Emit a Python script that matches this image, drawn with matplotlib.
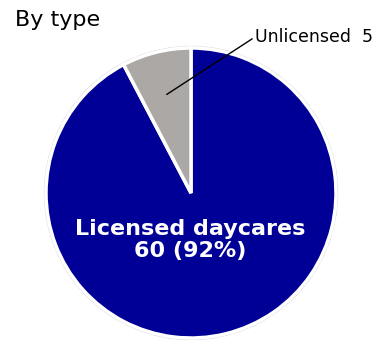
import numpy as np
import matplotlib.pyplot as plt
from matplotlib.patches import Circle

# Daycare facilities by type
labels = ['Licensed daycares', 'Unlicensed']
counts = [60, 5]
colors = ['#000096', '#ABA8A6']

fig = plt.figure(figsize=(3.79, 3.4), dpi=100)
ax = fig.add_axes([0, 0, 1, 1])

cx, cy, r = 191, 147, 145

# faint outline around the pie
ax.add_patch(Circle((cx, cy), r + 1.5, fill=False, edgecolor='#dcdcdc', lw=1, zorder=0))

wedges, _ = ax.pie(counts, colors=colors, startangle=90, counterclock=False,
                   center=(cx, cy), radius=r,
                   wedgeprops=dict(edgecolor='white', linewidth=2.5))

ax.set_xlim(0, 379)
ax.set_ylim(0, 340)
ax.set_aspect('equal')
ax.axis('off')

total = sum(counts)
ax.text(cx - 1, cy - 47, f'{labels[0]}\n{counts[0]} ({counts[0] / total:.0%})',
        color='white', fontsize=16, fontweight='bold', ha='center', va='center',
        linespacing=1.1, zorder=5)

# leader line from the small slice to its label
w = wedges[1]
mid = np.deg2rad((w.theta1 + w.theta2) / 2)
px, py = cx + 0.7 * r * np.cos(mid), cy + 0.7 * r * np.sin(mid)
ax.annotate(f'{labels[1]}  {counts[1]}', xy=(px, py), xytext=(255, 303),
            fontsize=12.5, ha='left', va='center', zorder=5,
            arrowprops=dict(arrowstyle='-', color='black', lw=1,
                            shrinkA=0, shrinkB=0, relpos=(0, 0.5)))

fig.text(15 / 379, 1 - 20 / 340, 'By type', fontsize=16, ha='left', va='center')

fig.savefig('out.png', dpi=100)
